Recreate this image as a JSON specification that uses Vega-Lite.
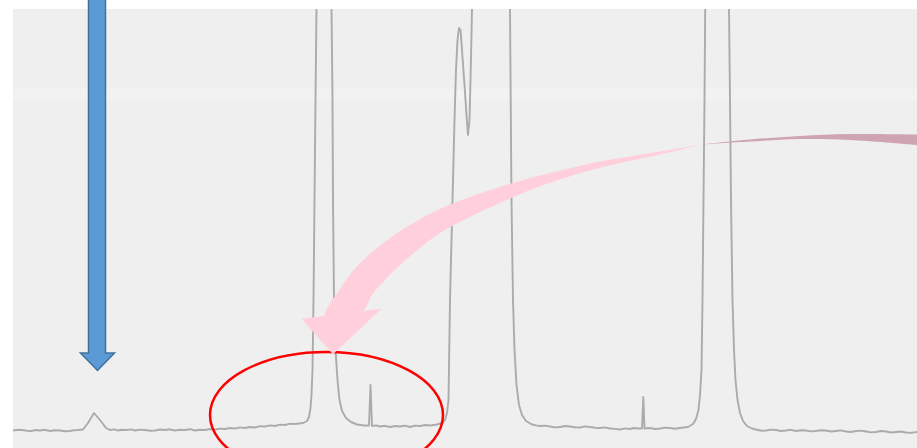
{
  "$schema": "https://vega.github.io/schema/vega-lite/v6.json",
  "autosize": "none",
  "width": 904,
  "height": 439,
  "padding": {"left": 13, "top": 9, "right": 0, "bottom": 0},
  "background": "#ffffff",
  "config": {"view": {"fill": "#efefef", "stroke": null}},
  "datasets": {
    "bands": [
      {"t1": 0, "t2": 9.04, "v1": 330, "v2": 341}
    ],
    "trace": [
      {"t": 0, "v": -0.5}, {"t": 0.05, "v": 0.3}, {"t": 0.09, "v": 0}, {"t": 0.14, "v": -0.8}, {"t": 0.18, "v": -1}, {"t": 0.23, "v": 0}, {"t": 0.27, "v": -0.5},
      {"t": 0.32, "v": 0.2}, {"t": 0.37, "v": -1}, {"t": 0.42, "v": -0.2}, {"t": 0.47, "v": -0.5}, {"t": 0.52, "v": -1.3}, {"t": 0.57, "v": -1}, {"t": 0.61, "v": -0.2}, {"t": 0.65, "v": 0},
      {"t": 0.70, "v": 0.5}, {"t": 0.75, "v": 7}, {"t": 0.81, "v": 17}, {"t": 0.87, "v": 10},
      {"t": 0.93, "v": 2}, {"t": 0.97, "v": 0}, {"t": 1.01, "v": 0.6}, {"t": 1.05, "v": -0.5}, {"t": 1.09, "v": 0.3}, {"t": 1.13, "v": 0},
      {"t": 1.18, "v": 0.6}, {"t": 1.22, "v": -0.5}, {"t": 1.27, "v": 0.4}, {"t": 1.32, "v": 0}, {"t": 1.37, "v": -0.8}, {"t": 1.42, "v": -0.5}, {"t": 1.47, "v": 0.5}, {"t": 1.52, "v": 0},
      {"t": 1.57, "v": 0.7}, {"t": 1.62, "v": -0.5}, {"t": 1.67, "v": 0.3}, {"t": 1.72, "v": 0}, {"t": 1.77, "v": 0.8}, {"t": 1.82, "v": -0.5}, {"t": 1.87, "v": 0.2}, {"t": 1.92, "v": 0},
      {"t": 1.97, "v": 1}, {"t": 2.02, "v": 0.5}, {"t": 2.07, "v": 1.4}, {"t": 2.12, "v": 1}, {"t": 2.17, "v": 2}, {"t": 2.22, "v": 1.5}, {"t": 2.27, "v": 2.6}, {"t": 2.32, "v": 2},
      {"t": 2.37, "v": 3}, {"t": 2.42, "v": 2.5}, {"t": 2.47, "v": 3.8}, {"t": 2.52, "v": 3.5}, {"t": 2.57, "v": 4.6}, {"t": 2.62, "v": 4}, {"t": 2.67, "v": 5.4}, {"t": 2.72, "v": 5},
      {"t": 2.77, "v": 6.3}, {"t": 2.82, "v": 6}, {"t": 2.90, "v": 7}, {"t": 2.94, "v": 9}, {"t": 2.96, "v": 13},
      {"t": 2.975, "v": 22}, {"t": 2.985, "v": 35}, {"t": 2.995, "v": 60}, {"t": 3.005, "v": 130},
      {"t": 3.015, "v": 230}, {"t": 3.025, "v": 330}, {"t": 3.035, "v": 421}, {"t": 3.11, "v": 2000},
      {"t": 3.185, "v": 421}, {"t": 3.195, "v": 330}, {"t": 3.20, "v": 230}, {"t": 3.21, "v": 130},
      {"t": 3.225, "v": 80}, {"t": 3.245, "v": 50}, {"t": 3.265, "v": 30}, {"t": 3.29, "v": 19},
      {"t": 3.33, "v": 12}, {"t": 3.38, "v": 8}, {"t": 3.44, "v": 5.5}, {"t": 3.48, "v": 5}, {"t": 3.51, "v": 4.5},
      {"t": 3.56, "v": 4.5}, {"t": 3.575, "v": 45}, {"t": 3.59, "v": 4}, {"t": 3.63, "v": 4.6}, {"t": 3.67, "v": 3.5},
      {"t": 3.72, "v": 4.2}, {"t": 3.77, "v": 3}, {"t": 3.82, "v": 4}, {"t": 3.87, "v": 3.5}, {"t": 3.92, "v": 4.3}, {"t": 3.97, "v": 3}, {"t": 4.02, "v": 4.4}, {"t": 4.07, "v": 4},
      {"t": 4.12, "v": 5}, {"t": 4.17, "v": 4.5}, {"t": 4.24, "v": 5.5}, {"t": 4.29, "v": 7}, {"t": 4.32, "v": 10},
      {"t": 4.34, "v": 17}, {"t": 4.355, "v": 30}, {"t": 4.37, "v": 130}, {"t": 4.395, "v": 230},
      {"t": 4.415, "v": 310}, {"t": 4.43, "v": 360}, {"t": 4.445, "v": 390}, {"t": 4.46, "v": 402},
      {"t": 4.475, "v": 400}, {"t": 4.49, "v": 380}, {"t": 4.515, "v": 345}, {"t": 4.535, "v": 315},
      {"t": 4.55, "v": 295}, {"t": 4.565, "v": 310}, {"t": 4.575, "v": 350}, {"t": 4.585, "v": 395},
      {"t": 4.59, "v": 421}, {"t": 4.78, "v": 2000}, {"t": 4.97, "v": 421}, {"t": 4.977, "v": 330},
      {"t": 4.985, "v": 230}, {"t": 5.00, "v": 130}, {"t": 5.015, "v": 80}, {"t": 5.035, "v": 45},
      {"t": 5.06, "v": 25}, {"t": 5.09, "v": 15}, {"t": 5.13, "v": 9}, {"t": 5.19, "v": 5.5},
      {"t": 5.23, "v": 4.6}, {"t": 5.27, "v": 4}, {"t": 5.32, "v": 4.4}, {"t": 5.37, "v": 3.5}, {"t": 5.42, "v": 2.6}, {"t": 5.47, "v": 3}, {"t": 5.52, "v": 4}, {"t": 5.57, "v": 3.5},
      {"t": 5.62, "v": 2.8}, {"t": 5.67, "v": 2.5}, {"t": 5.72, "v": 3.6}, {"t": 5.77, "v": 3}, {"t": 5.82, "v": 2.2}, {"t": 5.87, "v": 2}, {"t": 5.92, "v": 2.6}, {"t": 5.97, "v": 1.5},
      {"t": 6.02, "v": 1.1}, {"t": 6.07, "v": 0.5}, {"t": 6.12, "v": 1.6}, {"t": 6.17, "v": 1}, {"t": 6.21, "v": 2}, {"t": 6.25, "v": 1.5}, {"t": 6.29, "v": 1.5},
      {"t": 6.303, "v": 33}, {"t": 6.315, "v": 1.5}, {"t": 6.37, "v": 2}, {"t": 6.42, "v": 1}, {"t": 6.47, "v": 1.5},
      {"t": 6.52, "v": 2.4}, {"t": 6.57, "v": 2}, {"t": 6.62, "v": 1.3}, {"t": 6.67, "v": 2}, {"t": 6.75, "v": 3}, {"t": 6.80, "v": 6},
      {"t": 6.83, "v": 11}, {"t": 6.855, "v": 20}, {"t": 6.87, "v": 35}, {"t": 6.885, "v": 60},
      {"t": 6.895, "v": 130}, {"t": 6.905, "v": 230}, {"t": 6.915, "v": 330}, {"t": 6.922, "v": 421},
      {"t": 7.04, "v": 2000}, {"t": 7.16, "v": 421}, {"t": 7.17, "v": 330}, {"t": 7.18, "v": 230},
      {"t": 7.195, "v": 130}, {"t": 7.21, "v": 80}, {"t": 7.225, "v": 50}, {"t": 7.245, "v": 30},
      {"t": 7.27, "v": 17}, {"t": 7.30, "v": 9}, {"t": 7.34, "v": 4}, {"t": 7.39, "v": 1.5},
      {"t": 7.45, "v": 0}, {"t": 7.49, "v": -0.8}, {"t": 7.53, "v": -0.5}, {"t": 7.58, "v": 0.4}, {"t": 7.63, "v": 0}, {"t": 7.68, "v": -1}, {"t": 7.73, "v": -0.5},
      {"t": 7.78, "v": 0.2}, {"t": 7.83, "v": -1}, {"t": 7.88, "v": -0.2}, {"t": 7.93, "v": -0.5}, {"t": 7.98, "v": -1.4}, {"t": 8.03, "v": -1}, {"t": 8.08, "v": -0.2}, {"t": 8.13, "v": -0.5},
      {"t": 8.18, "v": -1.5}, {"t": 8.23, "v": -1}, {"t": 8.28, "v": -0.4}, {"t": 8.33, "v": -1.5}, {"t": 8.38, "v": -2}, {"t": 8.43, "v": -1}, {"t": 8.48, "v": -0.6}, {"t": 8.53, "v": -1.5},
      {"t": 8.58, "v": -2.4}, {"t": 8.63, "v": -2}, {"t": 8.68, "v": -1}, {"t": 8.73, "v": -1.5}, {"t": 8.78, "v": -2.5}, {"t": 8.83, "v": -2}, {"t": 8.88, "v": -1.5}, {"t": 8.93, "v": -2.5},
      {"t": 8.98, "v": -2.9}, {"t": 9.04, "v": -2}
    ],
    "ring": [
      {"t": 3.135, "v": 15}
    ],
    "pinkBody": [
      {"i": 1, "t": 6.89, "v": 285.5}, {"i": 2, "t": 6.47, "v": 278.5}, {"i": 3, "t": 6.07, "v": 272},
      {"i": 4, "t": 5.77, "v": 266.5}, {"i": 5, "t": 5.47, "v": 259.5}, {"i": 6, "t": 5.17, "v": 252},
      {"i": 7, "t": 4.87, "v": 243}, {"i": 8, "t": 4.57, "v": 233}, {"i": 9, "t": 4.27, "v": 221},
      {"i": 10, "t": 3.97, "v": 205}, {"i": 11, "t": 3.77, "v": 192}, {"i": 12, "t": 3.57, "v": 176},
      {"i": 13, "t": 3.39, "v": 158}, {"i": 14, "t": 3.25, "v": 138}, {"i": 15, "t": 3.16, "v": 125},
      {"i": 16, "t": 3.12, "v": 114}, {"i": 17, "t": 3.49, "v": 118}, {"i": 18, "t": 3.59, "v": 135},
      {"i": 19, "t": 3.72, "v": 150}, {"i": 20, "t": 3.87, "v": 165}, {"i": 21, "t": 4.07, "v": 182},
      {"i": 22, "t": 4.27, "v": 197}, {"i": 23, "t": 4.57, "v": 213}, {"i": 24, "t": 4.87, "v": 227},
      {"i": 25, "t": 5.17, "v": 240}, {"i": 26, "t": 5.47, "v": 250.5}, {"i": 27, "t": 5.77, "v": 259.5},
      {"i": 28, "t": 6.07, "v": 267}, {"i": 29, "t": 6.47, "v": 275.5}, {"i": 30, "t": 6.89, "v": 285.5}
    ],
    "pinkHead": [
      {"i": 1, "t": 2.89, "v": 111}, {"i": 2, "t": 3.20, "v": 76}, {"i": 3, "t": 3.68, "v": 121},
      {"i": 4, "t": 2.89, "v": 111}
    ],
    "pinkBack": [
      {"i": 1, "t": 6.89, "v": 285.5}, {"i": 2, "t": 7.37, "v": 290.5}, {"i": 3, "t": 7.87, "v": 294},
      {"i": 4, "t": 8.37, "v": 296}, {"i": 5, "t": 9.04, "v": 295.5}, {"i": 6, "t": 9.17, "v": 295},
      {"i": 7, "t": 9.17, "v": 284}, {"i": 8, "t": 9.04, "v": 285}, {"i": 9, "t": 8.37, "v": 290},
      {"i": 10, "t": 7.87, "v": 291}, {"i": 11, "t": 7.37, "v": 288.5}, {"i": 12, "t": 6.89, "v": 285.5}
    ],
    "blueArrow": [
      {"i": 1, "t": 0.755, "v": 435}, {"i": 2, "t": 0.925, "v": 435}, {"i": 3, "t": 0.925, "v": 77},
      {"i": 4, "t": 1.015, "v": 77}, {"i": 5, "t": 0.845, "v": 59.5}, {"i": 6, "t": 0.675, "v": 77},
      {"i": 7, "t": 0.755, "v": 77}, {"i": 8, "t": 0.755, "v": 435}
    ]
  },
  "encoding": {
    "x": {"field": "t", "type": "quantitative", "axis": null,
          "scale": {"domain": [0, 9.04], "nice": false, "zero": false}},
    "y": {"field": "v", "type": "quantitative", "axis": null,
          "scale": {"domain": [-18, 421], "nice": false, "zero": false}}
  },
  "layer": [
    {
      "data": {"name": "bands"},
      "mark": {"type": "rect", "fill": "#ffffff", "opacity": 0.2},
      "encoding": {
        "x": {"field": "t1", "type": "quantitative"},
        "x2": {"field": "t2"},
        "y": {"field": "v1", "type": "quantitative"},
        "y2": {"field": "v2"}
      }
    },
    {
      "data": {"name": "trace"},
      "mark": {"type": "line", "stroke": "#ababab", "strokeWidth": 1.9, "clip": true, "strokeJoin": "round"}
    },
    {
      "data": {"name": "ring"},
      "mark": {
        "type": "point",
        "shape": "M-1,0A1,0.541,0,1,1,1,0A1,0.541,0,1,1,-1,0Z",
        "size": 54289,
        "filled": false,
        "stroke": "#ff0000",
        "strokeWidth": 2.5,
        "opacity": 1
      }
    },
    {
      "data": {"name": "pinkBody"},
      "mark": {"type": "line", "fill": "#ffd0dc", "stroke": null, "interpolate": "catmull-rom"},
      "encoding": {"order": {"field": "i", "type": "quantitative"}}
    },
    {
      "data": {"name": "pinkHead"},
      "mark": {"type": "line", "fill": "#ffd0dc", "stroke": "#ffd0dc", "strokeWidth": 0.5},
      "encoding": {"order": {"field": "i", "type": "quantitative"}}
    },
    {
      "data": {"name": "pinkBack"},
      "mark": {"type": "line", "fill": "#cfa4b2", "stroke": null, "interpolate": "catmull-rom"},
      "encoding": {"order": {"field": "i", "type": "quantitative"}}
    },
    {
      "data": {"name": "blueArrow"},
      "mark": {"type": "line", "fill": "#5b9bd5", "stroke": "#41719c", "strokeWidth": 1.5, "strokeJoin": "miter"},
      "encoding": {"order": {"field": "i", "type": "quantitative"}}
    }
  ]
}
